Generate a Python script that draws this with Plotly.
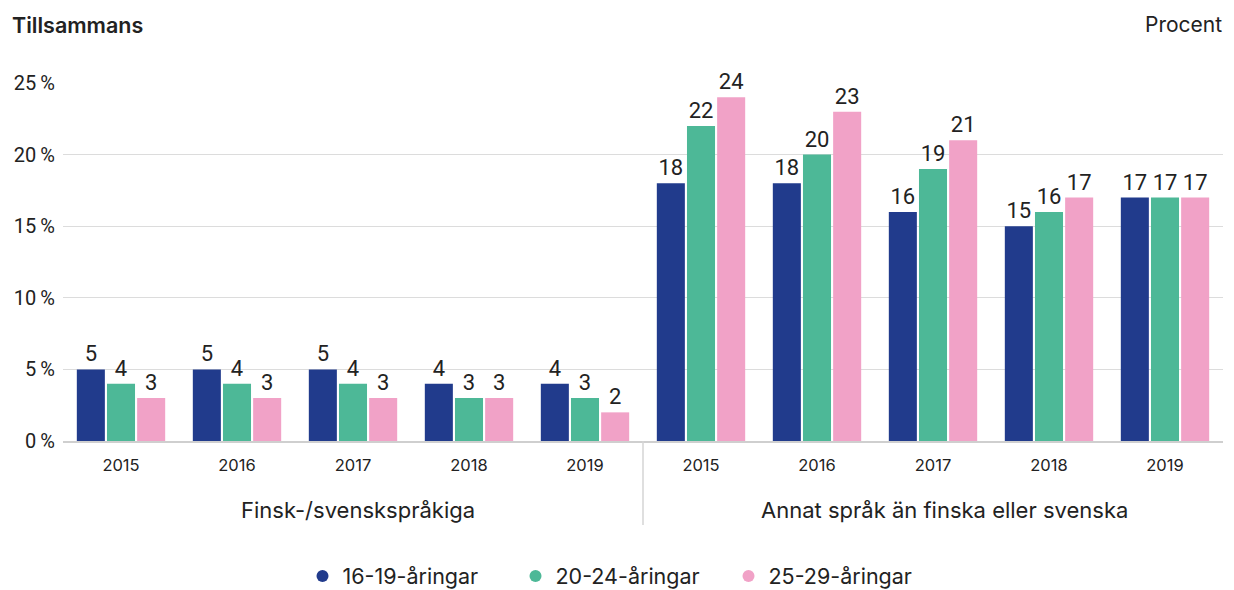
import plotly.graph_objects as go

groups = ["Finsk-/svenskspråkiga", "Annat språk än finska eller svenska"]
years = ["2015", "2016", "2017", "2018", "2019"]
series_names = ["16-19-åringar", "20-24-åringar", "25-29-åringar"]
colors = ["#213b8c", "#4db897", "#f1a2c7"]

v_16_19 = [5, 5, 5, 4, 4, 18, 18, 16, 15, 17]
v_20_24 = [4, 4, 4, 3, 3, 22, 20, 19, 16, 17]
v_25_29 = [3, 3, 3, 3, 2, 24, 23, 21, 17, 17]
series_values = [v_16_19, v_20_24, v_25_29]

y_tickvals = [0, 5, 10, 15, 20, 25]
y_ticktext = ["0\u2009%", "5\u2009%", "10\u2009%", "15\u2009%", "20\u2009%", "25\u2009%"]

cats = [f"{g}|{y}" for g in groups for y in years]
year_labels = [y for g in groups for y in years]

FONT = "Inter"
NUMFONT = "Roboto"
TXT = "#222"
L, R, T, B = 63, 11, 83, 149
PH = 590 - T - B
PW = 1234 - L - R

fig = go.Figure()
for name, vals, col in zip(series_names, series_values, colors):
    fig.add_trace(go.Bar(
        x=cats, y=vals, name=name, marker_color=col, marker_line_width=0,
        text=[str(v) for v in vals], textposition="outside",
        textfont=dict(size=22, color=TXT, family=NUMFONT),
        cliponaxis=False, showlegend=False, hoverinfo="skip",
    ))
for name, col in zip(series_names, colors):
    fig.add_trace(go.Scatter(
        x=[None], y=[None], mode="markers", name=name,
        marker=dict(symbol="circle", size=17, color=col),
    ))

fig.update_layout(
    width=1234, height=590,
    margin=dict(l=L, r=R, t=T, b=B),
    paper_bgcolor="white", plot_bgcolor="white",
    font=dict(family=FONT, color=TXT),
    barmode="group", bargap=0.22, bargroupgap=0.07,
    legend=dict(orientation="h", x=(622 - L) / PW, xanchor="center",
                yref="container", y=(590 - 576) / 590, yanchor="middle",
                font=dict(size=21.5, color=TXT, family=FONT),
                entrywidth=168, entrywidthmode="pixels", itemsizing="constant"),
    showlegend=True,
)
fig.update_xaxes(
    type="category", categoryorder="array", categoryarray=cats,
    tickvals=cats, ticktext=year_labels,
    ticks="outside", ticklen=8, tickcolor="rgba(0,0,0,0)",
    tickfont=dict(size=16.5, color=TXT, family=FONT),
    showline=True, linecolor="#cfcfcf", linewidth=1.5,
    showgrid=False, zeroline=False, automargin=False,
)
fig.update_yaxes(
    range=[0, 25], tickvals=y_tickvals, ticktext=y_ticktext,
    tickfont=dict(size=20, color=TXT, family=NUMFONT),
    ticks="outside", ticklen=3, tickcolor="rgba(0,0,0,0)",
    showgrid=True, gridcolor="#dcdcdc", gridwidth=1,
    zeroline=False, showline=False, automargin=False,
)

fig.add_annotation(text="Tillsammans", xref="paper", yref="paper", x=(10 - L) / PW, xanchor="left",
                   y=(T + PH - 25) / PH, yanchor="middle", showarrow=False,
                   font=dict(size=21.5, color=TXT, family=FONT, weight=600))
fig.add_annotation(text="Procent", xref="paper", yref="paper", x=(1224 - L) / PW, xanchor="right",
                   y=(T + PH - 25) / PH, yanchor="middle", showarrow=False,
                   font=dict(size=21, color=TXT, family=FONT))
group_label_x = [2.04, 7.1]
for g, gx in zip(groups, group_label_x):
    fig.add_annotation(text=g, xref="x", yref="paper", x=gx, xanchor="center",
                       y=(T + PH - 510) / PH, yanchor="middle", showarrow=False,
                       font=dict(size=22, color=TXT, family=FONT))
fig.add_shape(type="line", xref="x", yref="paper", x0=4.5, x1=4.5,
              y0=0, y1=(T + PH - 525) / PH, line=dict(color="#d5d5d5", width=1.5))

fig.write_html("out.html", config={"displayModeBar": False},
               post_script="document.body.style.margin='0';")
